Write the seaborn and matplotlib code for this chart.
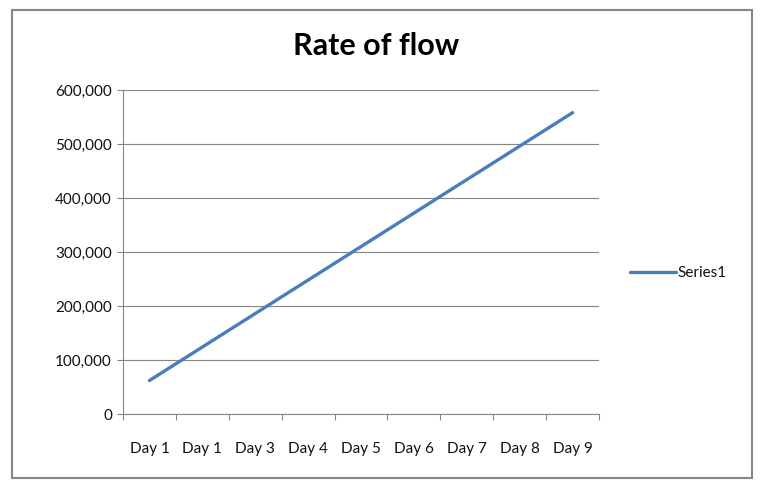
import matplotlib
matplotlib.use("Agg")
import matplotlib.pyplot as plt
from matplotlib.patches import Rectangle
from matplotlib.ticker import FuncFormatter, FixedLocator
import seaborn as sns
import pandas as pd

# data
days = ["Day 1", "Day 1", "Day 3", "Day 4", "Day 5", "Day 6", "Day 7", "Day 8", "Day 9"]
flow = [62000, 124000, 186000, 248000, 310000, 372000, 434000, 496000, 558000]
y_ticks = [0, 100000, 200000, 300000, 400000, 500000, 600000]

sns.set_style("white")
plt.rcParams['font.family'] = ['Lato', 'DejaVu Sans']

df = pd.DataFrame({"pos": range(len(days)), "flow": flow, "series": "Series1"})

fig = plt.figure(figsize=(7.7, 4.92), dpi=100)
ax = fig.add_axes([123/770, 78/492, 476/770, 324/492])

sns.lineplot(data=df, x="pos", y="flow", hue="series", palette=["#4a7ebb"],
             linewidth=2.4, ax=ax, legend=True)

ax.set_xlim(-0.5, len(days) - 0.5)
ax.set_ylim(0, 600000)
ax.set_yticks(y_ticks)
ax.yaxis.set_major_formatter(FuncFormatter(lambda v, p: f"{int(v):,}"))
ax.set_xticks(range(len(days)))
ax.set_xticklabels(days)
ax.xaxis.set_minor_locator(FixedLocator([i - 0.5 for i in range(len(days) + 1)]))
ax.tick_params(axis="x", which="major", bottom=True, length=0, pad=20, labelsize=11, colors="#111111")
ax.tick_params(axis="x", which="minor", bottom=True, length=4, width=0.8, color="#868686")
ax.tick_params(axis="y", left=True, length=4, width=0.8, color="#868686", pad=4, labelsize=11, labelcolor="#111111")
ax.set_xlabel("")
ax.set_ylabel("")

ax.grid(axis="y", color="#868686", linewidth=0.8)
ax.set_axisbelow(True)
for side in ["top", "right"]:
    ax.spines[side].set_visible(False)
for side in ["left", "bottom"]:
    ax.spines[side].set_color("#868686")
    ax.spines[side].set_linewidth(0.8)

leg = ax.legend(loc="center left", bbox_to_anchor=(616/770, 219/492),
                bbox_transform=fig.transFigure, frameon=False, fontsize=11,
                handlelength=3.0, handletextpad=0.1)
for h in leg.get_lines():
    h.set_linewidth(2.4)
for t in leg.get_texts():
    t.set_color("#111111")

fig.text(376/770, 1 - 46/492, "Rate of flow", ha="center", va="center",
         fontsize=22, fontweight="bold", color="#000000")

# chart border
fig.patches.append(Rectangle((12/770, 14/492), 740/770, 468/492, transform=fig.transFigure,
                             fill=False, edgecolor="#868686", linewidth=1.5))

fig.savefig("out.png", dpi=100)
